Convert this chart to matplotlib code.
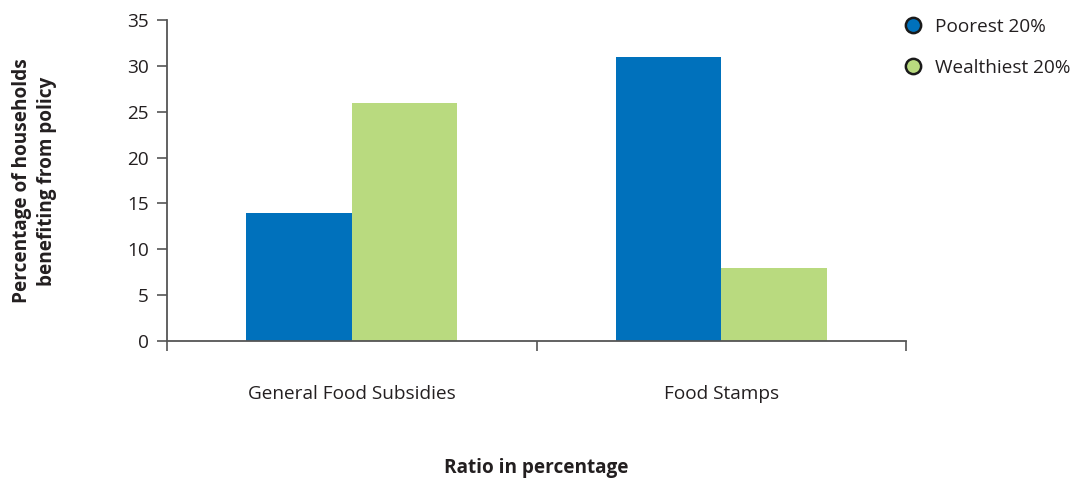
import matplotlib
matplotlib.use("Agg")
import matplotlib.pyplot as plt
from matplotlib.lines import Line2D
import numpy as np

categories = ["General Food Subsidies", "Food Stamps"]
series_names = ["Poorest 20%", "Wealthiest 20%"]
poorest = [14, 31]
wealthiest = [26, 8]
y_ticks = [0, 5, 10, 15, 20, 25, 30, 35]

colors = ["#0071BC", "#B9DA7F"]
text_color = "#231F20"
axis_color = "#555555"
fs = 13.7

plt.rcParams["font.family"] = ["Open Sans", "DejaVu Sans"]

fig = plt.figure(figsize=(10.85, 4.84), dpi=100)
ax = fig.add_axes([0.1539, 0.2955, 0.6813, 0.6632])

x = np.arange(len(categories)) + 0.5
w = 0.285
ax.bar(x - w / 2, poorest, width=w, color=colors[0], zorder=2)
ax.bar(x + w / 2, wealthiest, width=w, color=colors[1], zorder=2)

ax.set_xlim(0, len(categories))
ax.set_ylim(0, 35)
ax.set_yticks(y_ticks)
ax.set_yticklabels([str(v) for v in y_ticks], fontsize=fs, color=text_color)
ax.set_xticks(np.arange(len(categories) + 1))
ax.set_xticklabels([])
ax.set_xticks(x, minor=True)
ax.set_xticklabels(categories, minor=True, fontsize=fs, color=text_color)
ax.tick_params(axis="x", which="minor", length=0, pad=32)
ax.tick_params(axis="x", which="major", direction="out", length=7, width=1.2, color=axis_color)
ax.tick_params(axis="y", direction="out", length=7, width=1.2, color=axis_color, pad=6)

for s in ["top", "right"]:
    ax.spines[s].set_visible(False)
for s in ["left", "bottom"]:
    ax.spines[s].set_color(axis_color)
    ax.spines[s].set_linewidth(1.3)
    ax.spines[s].set_zorder(3)

fig.text(0.494, 0.033, "Ratio in percentage", fontsize=fs, fontweight="bold",
         color=text_color, ha="center", va="center")
fig.text(0.032, 0.626, "Percentage of households\nbenefiting from policy",
         fontsize=fs, fontweight="bold", color=text_color, ha="center",
         va="center", rotation=90, linespacing=1.3)

handles = [Line2D([], [], marker="o", linestyle="none", markersize=11,
                  markerfacecolor=c, markeredgecolor="#1a1a1a", markeredgewidth=1.8)
           for c in colors]
fig.legend(handles, series_names, loc="upper left", bbox_to_anchor=(0.815, 0.998),
           frameon=False, fontsize=fs, handletextpad=0.55, labelspacing=1.2,
           labelcolor=text_color, handlelength=1.2)

fig.savefig("out.png", dpi=100)
